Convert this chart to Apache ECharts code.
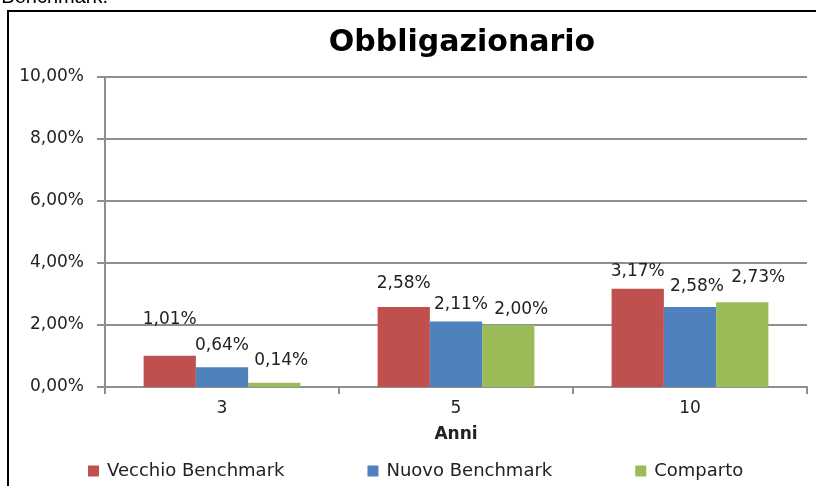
<!DOCTYPE html>
<html>
<head>
<meta charset="utf-8">
<script src="https://cdn.jsdelivr.net/npm/echarts@6/dist/echarts.min.js"></script>
<style>
html,body{margin:0;padding:0;background:#fff;}
#chart{width:816px;height:486px;}
</style>
</head>
<body>
<div id="chart"></div>
<script>
// ---- data ----
var categories = ['3', '5', '10'];
var seriesNames = ['Vecchio Benchmark', 'Nuovo Benchmark', 'Comparto'];
var vecchioBenchmark = [1.01, 2.58, 3.17];
var nuovoBenchmark = [0.64, 2.11, 2.58];
var comparto = [0.14, 2.00, 2.73];
var yTicks = [0, 2, 4, 6, 8, 10];

// ---- styling (label nudges, per series) ----
var labelNudgeVecchio = [[0, -23], [0, -10], [0, -4]];
var labelNudgeNuovo = [[0, -8], [5, -4], [7, -7]];
var labelNudgeComparto = [[7, -9], [13, -2], [16, -11]];

var FONT = "'DejaVu Sans', Verdana, sans-serif";
function pct(v) { return v.toFixed(2).replace('.', ',') + '%'; }

function buildData(values, nudges) {
  return values.map(function (v, i) {
    return { value: v, label: { offset: nudges[i] } };
  });
}

var colors = ['#C0504D', '#4F81BD', '#9BBB59'];
var allValues = [vecchioBenchmark, nuovoBenchmark, comparto];
var allNudges = [labelNudgeVecchio, labelNudgeNuovo, labelNudgeComparto];

var series = seriesNames.map(function (name, k) {
  return {
    name: name,
    type: 'bar',
    barGap: '0%',
    barCategoryGap: '33%',
    itemStyle: { color: colors[k] },
    label: {
      show: true,
      position: 'top',
      distance: 5,
      color: '#222',
      fontFamily: FONT,
      fontSize: 17,
      formatter: function (p) { return pct(p.value); }
    },
    data: buildData(allValues[k], allNudges[k])
  };
});

var chart = echarts.init(document.getElementById('chart'), null, { renderer: 'canvas' });
chart.setOption({
  animation: false,
  backgroundColor: '#fff',
  color: colors,
  title: {
    text: 'Obbligazionario',
    left: 457,
    top: 23,
    textAlign: 'center',
    textStyle: { fontFamily: FONT, fontSize: 30, fontWeight: 'bold', color: '#000' }
  },
  graphic: [
    {
      type: 'rect', z: -1, silent: true,
      shape: { x: 8, y: 11, width: 900, height: 600 },
      style: { fill: 'none', stroke: '#000', lineWidth: 2 }
    },
    {
      type: 'text', silent: true,
      style: { text: 'Benchmark.', x: 108, y: 7, align: 'right', verticalAlign: 'bottom',
        font: "20px 'Liberation Sans', Arial, sans-serif", fill: '#000' }
    }
  ],
  legend: {
    data: seriesNames,
    left: 83,
    top: 457,
    itemWidth: 11,
    itemHeight: 11,
    itemGap: 83,
    icon: 'rect',
    textStyle: { fontFamily: FONT, fontSize: 18, color: '#222', padding: [0, 0, 0, 3] }
  },
  grid: { left: 105, right: 9, top: 77, bottom: 99, containLabel: false },
  xAxis: {
    type: 'category',
    data: categories,
    name: 'Anni',
    nameLocation: 'middle',
    nameGap: 39,
    nameTextStyle: { fontFamily: FONT, fontSize: 17, fontWeight: 'bold', color: '#222' },
    axisLine: { lineStyle: { color: '#8f8f8f', width: 2 } },
    axisTick: { show: true, alignWithLabel: false, length: 7, lineStyle: { color: '#8f8f8f', width: 2 } },
    axisLabel: { margin: 13, fontFamily: FONT, fontSize: 17, color: '#222' },
    splitLine: { show: false }
  },
  yAxis: {
    type: 'value',
    min: yTicks[0],
    max: yTicks[yTicks.length - 1],
    interval: yTicks[1] - yTicks[0],
    axisLine: { show: true, lineStyle: { color: '#8f8f8f', width: 2 } },
    axisTick: { show: true, length: 8, lineStyle: { color: '#8f8f8f', width: 2 } },
    axisLabel: { margin: 21, fontFamily: FONT, fontSize: 17, color: '#222',
      formatter: function (v) { return pct(v); } },
    splitLine: { show: true, lineStyle: { color: '#8f8f8f', width: 2 } }
  },
  series: series
});
</script>
</body>
</html>
